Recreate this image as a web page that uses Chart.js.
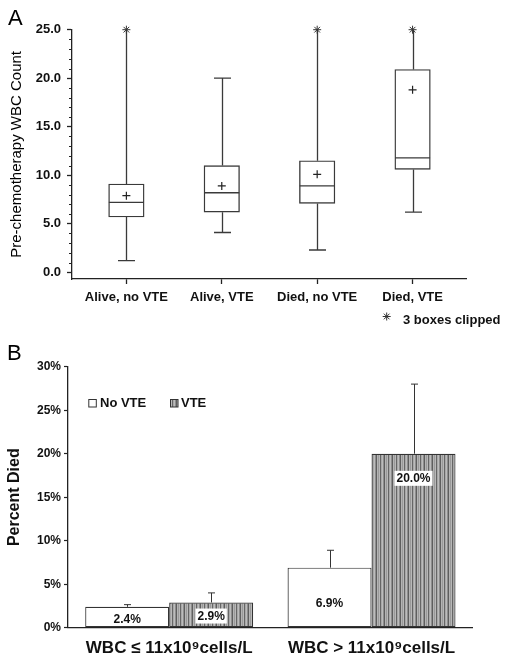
<!DOCTYPE html>
<html><head><meta charset="utf-8">
<script src="https://cdn.jsdelivr.net/npm/chart.js@4/dist/chart.umd.min.js"></script>
<style>
html,body{margin:0;padding:0;background:#fff;}
#wrap{position:relative;width:512px;height:660px;background:#fff;}
canvas{position:absolute;left:0;}
#ca{top:0}
#cb{top:330px}
</style></head><body>
<div id="wrap"><canvas id="ca" width="512" height="330"></canvas><canvas id="cb" width="512" height="330"></canvas></div>
<script>
const FONT = "'Liberation Sans', Arial, Helvetica, sans-serif";

// ---------- Panel A data ----------
const groupsA = ['Alive, no VTE', 'Alive, VTE', 'Died, no VTE', 'Died, VTE'];
const whiskerLow = [1.2, 4.1, 2.3, 6.2];
const q1 = [5.7, 6.2, 7.1, 10.6];
const medianA = [7.2, 8.2, 8.9, 11.8];
const q3 = [9.1, 11.0, 11.5, 20.9];
const whiskerHigh = [25.0, 20.0, 25.0, 25.0];
const meanA = [7.9, 8.9, 10.1, 18.8];
const clippedA = [true, false, true, true];
const yTicksA = [0, 5, 10, 15, 20, 25];

// ---------- Panel B data ----------
const groupsB = ['WBC \u2264 11x10\u2079cells/L', 'WBC > 11x10\u2079cells/L'];
const seriesNames = ['No VTE', 'VTE'];
const noVte = [2.4, 6.9];
const vte = [2.9, 20.0];
const noVteErrHigh = [2.65, 8.9];
const vteErrHigh = [4.0, 28.0];
const yTicksB = [0, 5, 10, 15, 20, 25, 30];

// label placement (layout only, in axis units)
const labelAtNoVte = [1.03, 2.87];
const labelAtVte = [1.34, 17.17];

const lineCol = '#3a3a3a';
const txtCol = '#111';

// stripe pattern for VTE bars
function makeStripe() {
  const c = document.createElement('canvas');
  c.width = 8; c.height = 4;
  const g = c.getContext('2d');
  const cols = ['#5e5e5e', '#b4b4b4', '#9a9a9a', '#b8b8b8', '#666666', '#a8a8a8', '#bcbcbc', '#8e8e8e'];
  cols.forEach((col, i) => { g.fillStyle = col; g.fillRect(i, 0, 1, 4); });
  return g.createPattern(c, 'repeat');
}
const stripe = makeStripe();

// ---------- Chart A ----------
const boxParts = {
  id: 'boxParts',
  beforeDatasetsDraw(chart) {
    const { ctx, scales: { x, y } } = chart;
    ctx.save();
    ctx.strokeStyle = lineCol; ctx.lineWidth = 1.3;
    const capW = 8.5;
    groupsA.forEach((g, i) => {
      const px = Math.round(x.getPixelForValue(i)) + 0.5;
      const yl = y.getPixelForValue(whiskerLow[i]);
      const yh = y.getPixelForValue(whiskerHigh[i]);
      ctx.beginPath();
      ctx.moveTo(px, yl); ctx.lineTo(px, y.getPixelForValue(q1[i]));
      ctx.moveTo(px, y.getPixelForValue(q3[i])); ctx.lineTo(px, yh);
      ctx.moveTo(px - capW, yl); ctx.lineTo(px + capW, yl);
      if (!clippedA[i]) { ctx.moveTo(px - capW, yh); ctx.lineTo(px + capW, yh); }
      ctx.stroke();
    });
    ctx.restore();
  },
  afterDatasetsDraw(chart) {
    const { ctx, scales: { x, y } } = chart;
    ctx.save();
    ctx.strokeStyle = lineCol; ctx.lineWidth = 1.3;
    const half = 17.5;
    groupsA.forEach((g, i) => {
      const px = x.getPixelForValue(i);
      const ym = y.getPixelForValue(medianA[i]);
      ctx.beginPath(); ctx.moveTo(px - half, ym); ctx.lineTo(px + half, ym); ctx.stroke();
    });
    // minor ticks
    ctx.strokeStyle = '#222'; ctx.lineWidth = 1;
    const left = chart.chartArea.left;
    ctx.beginPath();
    for (let v = 1; v < 25; v++) {
      if (v % 5 === 0) continue;
      const py = Math.round(y.getPixelForValue(v)) + 0.5;
      ctx.moveTo(left - 3, py); ctx.lineTo(left, py);
    }
    ctx.stroke();
    ctx.restore();
  },
  afterDraw(chart) {
    const ctx = chart.ctx;
    ctx.save();
    ctx.fillStyle = '#000';
    ctx.font = '22px ' + FONT;
    ctx.textBaseline = 'alphabetic';
    ctx.fillText('A', 8, 25);
    Chart.helpers.drawPoint(ctx, { pointStyle: 'star', radius: 4, borderWidth: 1 }, 386.7, 316.5);
    ctx.fillStyle = txtCol;
    ctx.font = 'bold 13px ' + FONT;
    ctx.fillText('3 boxes clipped', 403, 324);
    ctx.restore();
  }
};

new Chart(document.getElementById('ca'), {
  type: 'bar',
  data: {
    datasets: [
      {
        type: 'bar', label: 'box',
        data: groupsA.map((g, i) => ({ x: i, y: [q1[i], q3[i]] })),
        backgroundColor: '#fff', borderColor: lineCol, borderWidth: 1.4,
        borderSkipped: false, barThickness: 35.5, order: 2
      },
      {
        type: 'scatter', label: 'mean',
        data: meanA.map((v, i) => ({ x: i, y: v })),
        pointStyle: 'cross', radius: 4, borderColor: '#222', borderWidth: 1.2,
        backgroundColor: '#222', clip: false, order: 1
      },
      {
        type: 'scatter', label: 'clipped',
        data: groupsA.map((g, i) => clippedA[i] ? { x: i, y: whiskerHigh[i] } : null).filter(Boolean),
        pointStyle: 'star', radius: 4, borderColor: '#333', borderWidth: 1,
        backgroundColor: '#333', clip: false, order: 0
      }
    ]
  },
  options: {
    responsive: false, animation: false, devicePixelRatio: 1,
    layout: { padding: { top: 29.7, right: 46, bottom: 0, left: 0 } },
    plugins: { legend: { display: false }, tooltip: { enabled: false } },
    scales: {
      x: {
        type: 'linear', min: -0.57, max: 3.56, offset: false,
        afterBuildTicks: s => { s.ticks = groupsA.map((g, i) => ({ value: i })); },
        ticks: { callback: v => groupsA[v], font: { family: FONT, size: 13, weight: 'bold' }, color: txtCol, padding: 6, maxRotation: 0, autoSkip: false },
        grid: { drawOnChartArea: false, drawTicks: true, tickLength: 5, color: '#222', tickWidth: 1.3, offset: false },
        border: { display: true, color: '#222', width: 1.3 },
        afterFit: s => { s.height = 51; }
      },
      y: {
        min: -0.69, max: 25,
        afterBuildTicks: s => { s.ticks = yTicksA.map(v => ({ value: v })); },
        ticks: { callback: v => v.toFixed(1), font: { family: FONT, size: 13, weight: 'bold' }, color: txtCol, padding: 6 },
        grid: { drawOnChartArea: false, drawTicks: true, tickLength: 5, color: '#222', tickWidth: 1.3 },
        border: { display: true, color: '#222', width: 1.3 },
        title: { display: true, text: 'Pre-chemotherapy WBC Count', font: { family: FONT, size: 15 }, color: '#000', padding: { top: 8, bottom: 0 } },
        afterFit: s => { s.width = 72; }
      }
    }
  },
  plugins: [boxParts]
});

// ---------- Chart B ----------
const barExtras = {
  id: 'barExtras',
  afterDatasetsDraw(chart) {
    const { ctx, scales: { y } } = chart;
    const errs = [noVteErrHigh, vteErrHigh];
    const labs = [labelAtNoVte, labelAtVte];
    const vals = [noVte, vte];
    ctx.save();
    chart.data.datasets.forEach((ds, d) => {
      const meta = chart.getDatasetMeta(d);
      meta.data.forEach((el, i) => {
        // error bar
        const px = Math.round(el.x) + 0.5;
        const ye = y.getPixelForValue(errs[d][i]);
        ctx.strokeStyle = '#333'; ctx.lineWidth = 1;
        ctx.beginPath();
        ctx.moveTo(px, el.y); ctx.lineTo(px, ye);
        ctx.moveTo(px - 3.5, ye); ctx.lineTo(px + 3.5, ye);
        ctx.stroke();
        // value label
        const txt = vals[d][i].toFixed(1) + '%';
        ctx.font = 'bold 12px ' + FONT;
        ctx.textAlign = 'center'; ctx.textBaseline = 'middle';
        const ly = y.getPixelForValue(labs[d][i]);
        if (d === 1) {
          const w = ctx.measureText(txt).width + 4;
          ctx.fillStyle = '#fff';
          ctx.fillRect(el.x - w / 2, ly - 7.5, w, 15);
        }
        ctx.fillStyle = txtCol;
        ctx.fillText(txt, el.x, ly + 0.5);
      });
    });
    ctx.restore();
  },
  afterDraw(chart) {
    const ctx = chart.ctx;
    ctx.save();
    ctx.fillStyle = '#000';
    ctx.font = '22px ' + FONT;
    ctx.textBaseline = 'alphabetic';
    ctx.fillText('B', 7, 29.5);
    // legend
    const ds = chart.data.datasets;
    const items = [{ x: 88.3, tx: 100 }, { x: 170, tx: 181 }];
    items.forEach((it, d) => {
      ctx.fillStyle = ds[d].backgroundColor;
      ctx.fillRect(it.x, 69, 8, 8);
      ctx.strokeStyle = '#333'; ctx.lineWidth = 1;
      ctx.strokeRect(it.x + 0.5, 69.5, 7.5, 7.5);
      ctx.fillStyle = txtCol;
      ctx.font = 'bold 13px ' + FONT;
      ctx.textBaseline = 'middle';
      ctx.fillText(ds[d].label, it.tx, 73);
    });
    ctx.restore();
  }
};

new Chart(document.getElementById('cb'), {
  type: 'bar',
  data: {
    labels: groupsB,
    datasets: [
      { label: seriesNames[0], data: noVte, backgroundColor: '#fff', borderColor: '#333', borderWidth: 1.2, borderSkipped: false },
      { label: seriesNames[1], data: vte, backgroundColor: stripe, borderColor: '#333', borderWidth: 1.2, borderSkipped: false }
    ]
  },
  options: {
    responsive: false, animation: false, devicePixelRatio: 1,
    categoryPercentage: 0.83, barPercentage: 1.0,
    layout: { padding: { top: 36.7, right: 39.3, bottom: 0, left: 0 } },
    plugins: { legend: { display: false }, tooltip: { enabled: false } },
    scales: {
      x: {
        ticks: { font: { family: FONT, size: 17, weight: 'bold' }, color: txtCol, padding: 2, maxRotation: 0, autoSkip: false },
        grid: { display: false },
        border: { display: true, color: '#222', width: 1.3 },
        afterFit: s => { s.height = 32.3; }
      },
      y: {
        min: 0, max: 30,
        afterBuildTicks: s => { s.ticks = yTicksB.map(v => ({ value: v })); },
        ticks: { callback: v => v + '%', font: { family: FONT, size: 12, weight: 'bold' }, color: txtCol, padding: 3 },
        grid: { drawOnChartArea: false, drawTicks: true, tickLength: 4, color: '#222', tickWidth: 1.2 },
        border: { display: true, color: '#222', width: 1.3 },
        title: { display: true, text: 'Percent Died', font: { family: FONT, size: 16, weight: 'bold' }, color: txtCol, padding: { top: 5.4, bottom: 0 } },
        afterFit: s => { s.width = 68; }
      }
    }
  },
  plugins: [barExtras]
});
</script>
</body></html>
